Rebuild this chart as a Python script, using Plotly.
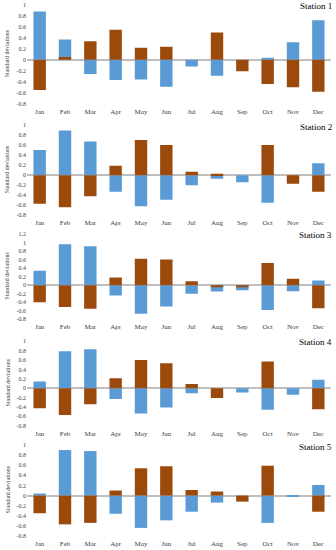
import plotly.graph_objects as go

months = ["Jan", "Feb", "Mar", "Apr", "May", "Jun", "Jul", "Aug", "Sep", "Oct", "Nov", "Dec"]
stations = ["Station 1", "Station 2", "Station 3", "Station 4", "Station 5"]

blue_s1 = [0.88, 0.37, -0.26, -0.37, -0.36, -0.49, -0.12, -0.29, 0.0, 0.04, 0.32, 0.72]
brown_s1 = [-0.55, 0.05, 0.34, 0.55, 0.22, 0.24, 0.0, 0.50, -0.21, -0.44, -0.50, -0.58]
blue_s2 = [0.50, 0.89, 0.67, -0.33, -0.62, -0.49, -0.20, -0.07, -0.14, -0.55, 0.0, 0.24]
brown_s2 = [-0.57, -0.64, -0.42, 0.19, 0.70, 0.60, 0.07, 0.03, 0.0, 0.60, -0.17, -0.33]
blue_s3 = [0.34, 0.96, 0.91, -0.24, -0.67, -0.50, -0.20, -0.15, -0.12, -0.58, -0.14, 0.11]
brown_s3 = [-0.40, -0.51, -0.55, 0.18, 0.62, 0.60, 0.09, -0.05, -0.05, 0.52, 0.15, -0.54]
blue_s4 = [0.14, 0.79, 0.83, -0.23, -0.54, -0.41, -0.11, 0.0, -0.09, -0.46, -0.14, 0.18]
brown_s4 = [-0.43, -0.57, -0.34, 0.21, 0.60, 0.53, 0.09, -0.21, 0.0, 0.57, 0.0, -0.45]
blue_s5 = [0.04, 0.90, 0.88, -0.36, -0.64, -0.49, -0.32, -0.14, 0.0, -0.54, -0.02, 0.21]
brown_s5 = [-0.35, -0.57, -0.54, 0.10, 0.54, 0.58, 0.11, 0.08, -0.12, 0.59, 0.0, -0.32]

blues = [blue_s1, blue_s2, blue_s3, blue_s4, blue_s5]
browns = [brown_s1, brown_s2, brown_s3, brown_s4, brown_s5]
y_tops = [1.0, 1.0, 1.2, 1.0, 1.0]
y_tick_vals = [
    [1.0, 0.8, 0.6, 0.4, 0.2, 0.0, -0.2, -0.4, -0.6, -0.8],
    [1.0, 0.8, 0.6, 0.4, 0.2, 0.0, -0.2, -0.4, -0.6, -0.8],
    [1.2, 1.0, 0.8, 0.6, 0.4, 0.2, 0.0, -0.2, -0.4, -0.6, -0.8],
    [1.0, 0.8, 0.6, 0.4, 0.2, 0.0, -0.2, -0.4, -0.6, -0.8],
    [1.0, 0.8, 0.6, 0.4, 0.2, 0.0, -0.2, -0.4, -0.6, -0.8],
]

W, H = 336, 550
L, R = 27, 5
# panel pixel extents (top tick y, bottom tick y)
panel_px = [(5, 103.7), (125, 215.3), (234, 319.3), (341.3, 425.7), (445, 536)]
title_px = [6, 127, 235, 342, 447]

BLUE = "#5B9BD5"
BROWN = "#9C4A0C"
FONT = "Liberation Serif"

fig = go.Figure()
annotations = []
for i in range(5):
    xa = "x" if i == 0 else f"x{i+1}"
    ya = "y" if i == 0 else f"y{i+1}"
    fig.add_trace(go.Bar(x=months, y=blues[i], marker=dict(color=BLUE, line=dict(width=0)),
                         width=0.49, xaxis=xa, yaxis=ya, showlegend=False))
    fig.add_trace(go.Bar(x=months, y=browns[i], marker=dict(color=BROWN, line=dict(width=0)),
                         width=0.49, xaxis=xa, yaxis=ya, showlegend=False))
    top, bot = panel_px[i]
    dom = [1 - bot / H, 1 - top / H]
    xkey = "xaxis" if i == 0 else f"xaxis{i+1}"
    ykey = "yaxis" if i == 0 else f"yaxis{i+1}"
    fig.layout[xkey] = dict(domain=[0, 1], anchor=ya, showgrid=False, showline=False,
                            ticks="", ticklabelstandoff=2,
                            tickfont=dict(family=FONT, size=7, color="#404040"),
                            automargin=False, fixedrange=True)
    ticktext = [("%g" % v) if v != 0 else "0" for v in y_tick_vals[i]]
    fig.layout[ykey] = dict(domain=dom, anchor=xa, range=[-0.8, y_tops[i]], showgrid=False,
                            showline=False, ticks="", tickvals=y_tick_vals[i], ticktext=ticktext,
                            tickfont=dict(family=FONT, size=6, color="#404040"),
                            zeroline=True, zerolinecolor="#BFBFBF", zerolinewidth=1.5,
                            automargin=False, fixedrange=True)
    annotations.append(dict(text=stations[i], xref="paper", yref="paper",
                            x=(334 - L) / (W - L - R), y=1 - title_px[i] / H,
                            xanchor="right", yanchor="middle", showarrow=False,
                            font=dict(family=FONT, size=9, color="#000000")))
    annotations.append(dict(text="Standard deviations", xref="paper", yref="paper",
                            x=(7 - L) / (W - L - R), y=1 - ((top + bot) / 2 - 1) / H,
                            xanchor="center", yanchor="middle", textangle=-90, showarrow=False,
                            font=dict(family=FONT, size=6, color="#404040")))

fig.update_layout(width=W, height=H, margin=dict(l=L, r=R, t=0, b=0),
                  barmode="overlay", bargap=0.5, plot_bgcolor="white", paper_bgcolor="white",
                  annotations=annotations)

fig.write_html("out.html", config={"displayModeBar": False},
               post_script="document.body.style.margin='0';document.body.style.overflow='hidden';")
